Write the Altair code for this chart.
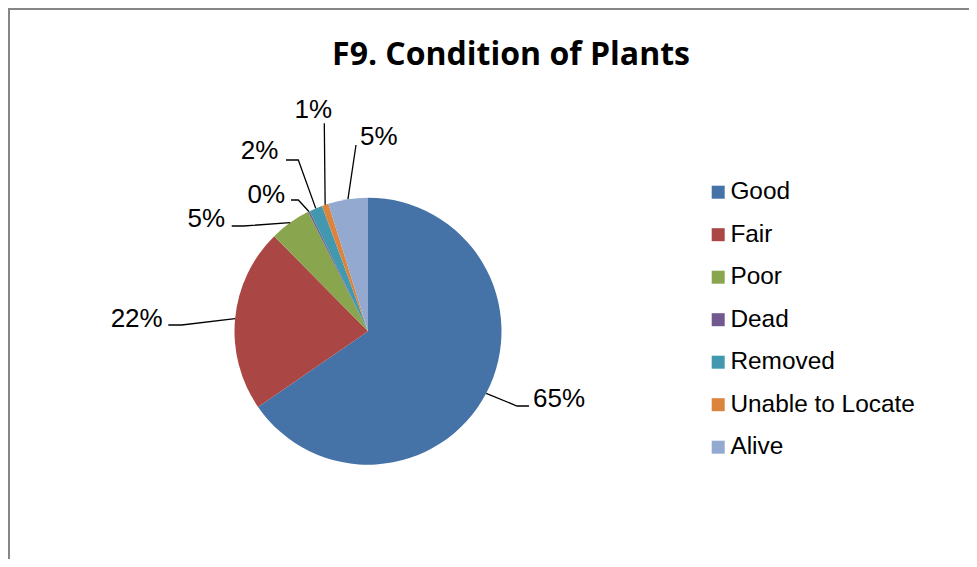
import math
import altair as alt
import pandas as pd

# ---- data ----
categories = ["Good", "Fair", "Poor", "Dead", "Removed", "Unable to Locate", "Alive"]
shares = [65.4, 22.2, 5.0, 0.2, 1.6, 0.8, 4.8]          # percent of plants
pct_labels = ["65%", "22%", "5%", "0%", "2%", "1%", "5%"]
colors = ["#4572A7", "#AA4643", "#89A54E", "#71588F", "#4198AF", "#DB843D", "#93A9CF"]

# ---- layout (view pixel coordinates) ----
W, H = 961, 551
CX, CY, R = 360, 323.2, 133.5
label_layout = [
    {"path": [(509, 398), (521, 398)], "text": (525, 399), "align": "left"},
    {"path": [(173.7, 317), (160.3, 317)], "text": (154.7, 318.7), "align": "right"},
    {"path": [(235.3, 218), (223.7, 218)], "text": (217, 218.7), "align": "right"},
    {"path": [(290.3, 192), (283, 192)], "text": (277, 195.3), "align": "right"},
    {"path": [(290.3, 152), (278, 152)], "text": (270.3, 151.3), "align": "right"},
    {"path": [(316.3, 115.3)], "text": (305.3, 110.3), "align": "center"},
    {"path": [(348, 137)], "text": (352, 137), "align": "left"},
]

pie_df = pd.DataFrame({"category": categories, "share": shares,
                       "order": list(range(len(categories)))})

# leader lines start at each slice's mid-angle on the rim
total = sum(shares)
line_rows, text_rows = [], []
cum = 0.0
for i, (cat, s) in enumerate(zip(categories, shares)):
    mid = (cum + s / 2) / total * 2 * math.pi
    cum += s
    sx, sy = CX + R * math.sin(mid), CY - R * math.cos(mid)
    pts = [(sx, sy)] + label_layout[i]["path"]
    for j, (px, py) in enumerate(pts):
        line_rows.append({"category": cat, "seq": j, "px": px, "py": py})
    tx, ty = label_layout[i]["text"]
    text_rows.append({"category": cat, "label": pct_labels[i], "px": tx, "py": ty,
                      "align": label_layout[i]["align"]})
lines_df = pd.DataFrame(line_rows)
text_df = pd.DataFrame(text_rows)

xs = alt.Scale(domain=[0, W], range=[0, W])
ys = alt.Scale(domain=[0, H], range=[0, H])

pie = alt.Chart(pie_df).mark_arc(outerRadius=R, stroke=None).encode(
    theta=alt.Theta("share:Q", stack=True),
    order=alt.Order("order:Q"),
    color=alt.Color("category:N",
                    scale=alt.Scale(domain=categories, range=colors),
                    sort=categories,
                    legend=alt.Legend(orient="none", legendX=698, legendY=172, title=None,
                                      symbolType="square", symbolSize=169,
                                      symbolStrokeWidth=0, labelFontSize=24.4,
                                      labelFont="Liberation Sans", labelColor="black",
                                      labelOffset=0, rowPadding=17.5, padding=0,
                                      labelLimit=400)),
    x=alt.value(CX), y=alt.value(CY),
)

leaders = alt.Chart(lines_df).mark_line(color="black", strokeWidth=1.3).encode(
    x=alt.X("px:Q", scale=xs, axis=None),
    y=alt.Y("py:Q", scale=ys, axis=None),
    detail="category:N",
    order="seq:Q",
)

def text_layer(align):
    return alt.Chart(text_df).transform_filter(alt.datum.align == align).mark_text(
        align=align, baseline="alphabetic", font="Liberation Sans", fontSize=26,
        color="black",
    ).encode(
        x=alt.X("px:Q", scale=xs, axis=None),
        y=alt.Y("py:Q", scale=ys, axis=None),
        text="label:N",
    )

title = alt.Chart(pd.DataFrame({"t": ["F9. Condition of Plants"]})).mark_text(
    align="center", baseline="alphabetic", font="Open Sans", fontSize=32,
    fontWeight="bold", color="black",
).encode(x=alt.value(503), y=alt.value(57), text="t:N")

frame_top = alt.Chart(pd.DataFrame({"k": [0]})).mark_rule(color="#868686", strokeWidth=2).encode(
    x=alt.value(0), x2=alt.value(W), y=alt.value(1)
)
frame_left = alt.Chart(pd.DataFrame({"k": [0]})).mark_rule(color="#868686", strokeWidth=2).encode(
    x=alt.value(1), y=alt.value(0), y2=alt.value(H)
)

chart = alt.layer(
    frame_top, frame_left, title, pie, leaders,
    text_layer("left"), text_layer("right"), text_layer("center"),
).properties(
    width=W, height=H,
    padding=0,
    autosize=alt.AutoSizeParams(type="none"),
).configure_view(stroke=None)

chart.save("out.html", embed_options={"renderer": "svg", "actions": False})
